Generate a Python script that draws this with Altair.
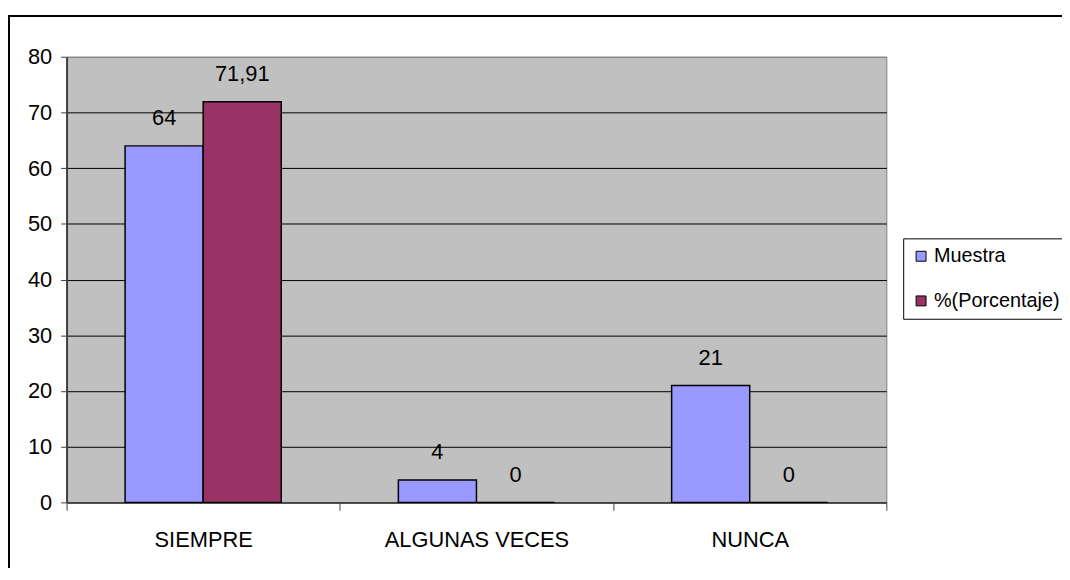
import altair as alt
import pandas as pd

categories = ["SIEMPRE", "ALGUNAS VECES", "NUNCA"]
series = ["Muestra", "%(Porcentaje)"]
muestra = [64, 4, 21]
porcentaje = [71.91, 0, 0]
muestra_labels = ["64", "4", "21"]
porcentaje_labels = ["71,91", "0", "0"]
y_ticks = [0, 10, 20, 30, 40, 50, 60, 70, 80]
colors = ["#9999FF", "#993366"]

rows = []
for i, c in enumerate(categories):
    rows.append({"cat": c, "serie": series[0], "valor": muestra[i], "etiqueta": muestra_labels[i]})
    rows.append({"cat": c, "serie": series[1], "valor": porcentaje[i], "etiqueta": porcentaje_labels[i]})
df = pd.DataFrame(rows)

FONT = "Liberation Sans"
FS = 22
W, H = 826, 449

x = alt.X(
    "cat:N", sort=categories,
    scale=alt.Scale(paddingInner=0, paddingOuter=0),
    axis=alt.Axis(title=None, labelAngle=0, tickBand="extent", tickSize=8,
                  labelPadding=29, labelBaseline="middle", labelFontSize=FS,
                  labelFont=FONT, labelColor="black", labelLimit=500,
                  domainColor="#404040", domainWidth=2, tickColor="#404040",
                  grid=False),
)
xo = alt.XOffset("serie:N", sort=series,
                 scale=alt.Scale(domain=series, paddingInner=0, paddingOuter=0.75))
y = alt.Y(
    "valor:Q",
    scale=alt.Scale(domain=[0, 80], nice=False),
    axis=alt.Axis(title=None, values=y_ticks, tickSize=6, labelPadding=9,
                  labelFontSize=FS, labelFont=FONT, labelColor="black",
                  domainColor="#404040", domainWidth=2, tickColor="#404040",
                  gridColor={"condition": {"test": "datum.value === 80", "value": "#808080"},
                             "value": "black"},
                  gridWidth=1),
)
color = alt.Color(
    "serie:N", sort=series,
    scale=alt.Scale(domain=series, range=colors),
    legend=alt.Legend(title=None, orient="none", legendX=843, legendY=183,
                      strokeColor="black", fillColor="white", padding=8,
                      symbolType="square", symbolSize=100,
                      symbolStrokeColor="black", symbolStrokeWidth=1,
                      labelFontSize=20, labelFont=FONT, labelColor="black",
                      labelOffset=3, rowPadding=25, cornerRadius=0,
                      labelLimit=300),
)

frame = alt.Chart(pd.DataFrame({"k": [0]})).mark_rect(
    fillOpacity=0, stroke="black", strokeWidth=2
).encode(
    x=alt.value(-58), x2=alt.value(W + 300),
    y=alt.value(-41), y2=alt.value(H + 200),
)

bars = alt.Chart(df).mark_bar(stroke="black", strokeWidth=1.5).encode(
    x=x, xOffset=xo, y=y, color=color
)
labels = alt.Chart(df).mark_text(
    dy=-28, baseline="middle", fontSize=FS, font=FONT, color="black"
).encode(x=x, xOffset=xo, y=y, text="etiqueta:N")

chart = alt.layer(frame, bars, labels).properties(
    width=W, height=H,
    autosize=alt.AutoSizeParams(type="none"),
    padding={"left": 59, "top": 47, "right": 177, "bottom": 64},
    background="white",
).configure_view(
    fill="#C0C0C0", stroke="#808080", strokeWidth=1
)

chart.save("out.html", embed_options={"renderer": "svg", "actions": False})
